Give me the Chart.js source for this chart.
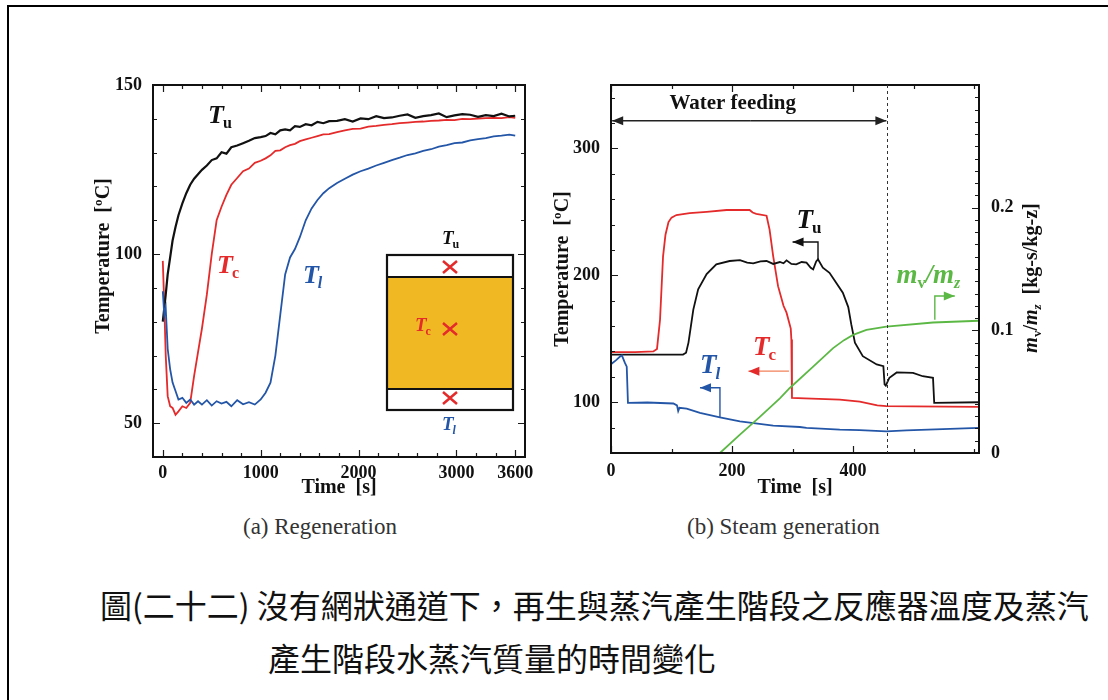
<!DOCTYPE html>
<html>
<head>
<meta charset="utf-8">
<script src="https://cdn.jsdelivr.net/npm/chart.js@4.4.0/dist/chart.umd.min.js"></script>
<style>
  body { margin: 0; background: #fff; width: 1108px; height: 700px; overflow: hidden; position: relative; font-family: "Liberation Serif", serif; }
  #marco { position: absolute; left: 7px; top: 5px; width: 1110px; height: 700px; border-top: 2px solid #000; border-left: 2px solid #000; }
  canvas { position: absolute; }
  #graficoA { left: 80px; top: 60px; }
  #graficoB { left: 540px; top: 60px; }
  .sub { position: absolute; font-size: 23px; color: #333; line-height: 26px; white-space: nowrap; }
  .cap { position: absolute; font-family: "Noto Sans CJK TC", sans-serif; font-size: 32px; color: #111; line-height: 40px; white-space: nowrap; }
</style>
</head>
<body>
<div id="marco"></div>
<canvas id="graficoA" width="460" height="450"></canvas>
<canvas id="graficoB" width="540" height="450"></canvas>
<div class="sub" style="left:243px;top:514px">(a) Regeneration</div>
<div class="sub" style="left:687px;top:514px">(b) Steam generation</div>
<div class="cap" style="left:100px;top:584px">圖(二十二) 沒有網狀通道下，再生與蒸汽產生階段之反應器溫度及蒸汽</div>
<div class="cap" style="left:268px;top:637px">產生階段水蒸汽質量的時間變化</div>

<script>
const SERIF = '"Liberation Serif", "Times New Roman", serif';
const NEGRO = '#111111';
const ROJO = '#e42a2a';
const AZUL = '#2456a8';
const VERDE = '#5cb845';

// (a) Regeneración: tiempo [s] y temperaturas [ºC]
const regenTime = [0, 15, 30, 50, 75, 100, 130, 160, 200, 240, 280, 320, 360, 400, 450, 500, 550, 600, 650, 700,
  760, 820, 880, 940, 1000, 1050, 1100, 1150, 1200, 1250, 1300, 1350, 1400, 1460, 1520, 1580, 1640, 1700, 1780, 1860,
  1940, 2020, 2100, 2180, 2260, 2340, 2420, 2500, 2580, 2660, 2740, 2820, 2900, 2980, 3060, 3140, 3220, 3300, 3380, 3460,
  3540, 3600];
const regenTu = [80, 84, 88, 94, 99, 104, 108, 111.5, 115, 118, 120.5, 122.3, 123.6, 124.9, 126.2, 127.8, 128.3, 130.1, 129.7, 131.6,
  132.1, 132.8, 133.5, 134.3, 134.6, 134.9, 135.8, 135.4, 136.6, 136.9, 136.6, 137.8, 137.6, 138.4, 138.1, 139.1, 138.7, 139.3, 139.4, 139.9,
  139.2, 140.1, 139.9, 140.8, 140.2, 140.4, 140.9, 141.3, 140.3, 140.8, 141.1, 141.6, 140.5, 141.0, 141.4, 141.2, 140.6, 141.1, 140.8, 141.5,
  140.7, 140.9];
const regenTc = [98, 85, 70, 58, 55, 54.5, 52.5, 53.5, 55, 54.5, 56, 64, 71, 78, 88, 100, 110, 114, 117.5, 120.5,
  122.5, 124.5, 125.3, 127, 127.6, 128.3, 129.2, 130.5, 130.7, 131.6, 132.2, 132.6, 133.4, 133.9, 134.4, 134.9, 135.4, 135.5, 136.1, 136.6,
  137, 137.1, 137.7, 137.9, 138.2, 138.4, 138.7, 138.9, 139.1, 139.2, 139.4, 139.5, 139.7, 139.6, 140, 139.9, 140.1, 140.2, 140.3, 140.2,
  140.5, 140.3];
const regenTl = [89, 82, 84, 72, 66, 62, 59.5, 57, 57.5, 56, 57, 55.5, 56.5, 55.5, 56.8, 55.2, 56.5, 55.8, 56.3, 55,
  56.8, 55.6, 56.2, 55.5, 57, 59, 62, 70, 82, 94, 99, 101.5, 105, 110, 113.5, 116, 118, 119.5, 121, 122.3,
  123.5, 124.5, 125.3, 126.2, 127, 127.8, 128.5, 129.3, 129.8, 130.5, 131, 131.8, 132.2, 132.8, 133, 133.6, 134, 134.3, 134.8, 135,
  135.3, 135];
const regenXLabels = [0, 1000, 2000, 3000, 3600];
const regenYLabels = [50, 100, 150];

// (b) Generación de vapor
const steamTcTime = [0, 40, 70, 76, 81, 86, 90, 95, 100, 108, 130, 158, 191, 229, 234, 240, 257, 262, 268, 276,
  285, 290, 297, 298, 299, 320, 378, 411, 440, 455, 500, 608];
const steamTc = [139.5, 139.5, 140, 142, 165, 215, 232, 242, 245.5, 247.5, 249, 250, 251.5, 251.5, 249.5, 248.5, 247, 236, 215, 191.5,
  176, 170.6, 158, 149.5, 103.5, 103, 102, 100.5, 97.5, 97, 96.7, 96.4];
const steamTuTime = [0, 60, 119, 124, 128, 132, 136, 144, 158, 174, 196, 213, 225, 235, 247, 257, 268, 279, 285, 290,
  298, 306, 315, 323, 330, 334, 339, 342, 350, 361, 372, 383, 392, 397, 403, 416, 439, 450, 452, 454,
  460, 472, 499, 515, 532, 534, 608];
const steamTu = [137.6, 137.6, 137.6, 139, 147, 160, 173, 189, 201, 208.7, 211.3, 212, 210, 209.5, 211, 211.3, 209, 210.5, 209.5, 211.8,
  209, 208.7, 210.5, 210, 206, 204.7, 211, 212.6, 206, 202, 194.2, 186.3, 175, 161.3, 146.9, 136.3, 129.8, 128.4, 114, 113,
  119.3, 123.5, 123.2, 120.5, 119.3, 99.5, 100];
const steamTlTime = [0, 8, 15, 18, 23, 26, 28, 60, 103, 109, 111, 113, 125, 147, 180, 213, 268, 312, 323, 378, 411, 455, 488, 608];
const steamTl = [130, 133, 136, 136.9, 131, 128, 99.5, 99.8, 99, 97.5, 93, 95.6, 95, 91.6, 88, 85, 81.6, 80.5, 79.8, 78.4, 78, 77.1, 77.8, 79.8];
const steamMTime = [0, 180, 213, 245, 279, 295, 334, 367, 385, 400, 422, 455, 532, 608];
const steamM = [0, 0, 0.015, 0.029, 0.0446, 0.0528, 0.0704, 0.0855, 0.092, 0.0963, 0.1004, 0.1031, 0.1064, 0.1078];
const steamXLabels = [0, 200, 400];
const steamYLabels = [100, 200, 300];
const steamMLabels = [0, 0.1, 0.2];

function puntos(xs, ys) {
  return xs.map((x, i) => ({ x: x, y: ys[i] }));
}

function rango(a, b, paso) {
  const r = [];
  for (let v = a; v <= b + 1e-9; v += paso) r.push(+v.toFixed(4));
  return r;
}

function serie(datos, color, eje, ancho) {
  return {
    data: datos, borderColor: color, borderWidth: ancho || 1.8, pointRadius: 0, tension: 0,
    fill: false, yAxisID: eje || 'y'
  };
}

const fuenteEje = { family: SERIF, size: 18, weight: 'bold' };
const fuenteTitulo = { family: SERIF, size: 20, weight: 'bold' };

// marcas hacia dentro y marco del área del gráfico
function dibujarMarcas(chart, marcas) {
  const { ctx, chartArea: a, scales } = chart;
  ctx.save();
  ctx.strokeStyle = '#1a1a1a';
  ctx.lineWidth = 1.2;
  ctx.beginPath();
  marcas.forEach(m => {
    const esc = scales[m.eje];
    m.valores.forEach(v => {
      const p = Math.round(esc.getPixelForValue(v)) + 0.5;
      const largo = m.mayores.includes(v) ? 7 : 4;
      m.lados.forEach(lado => {
        if (lado === 'bottom') { ctx.moveTo(p, a.bottom); ctx.lineTo(p, a.bottom - largo); }
        if (lado === 'top') { ctx.moveTo(p, a.top); ctx.lineTo(p, a.top + largo); }
        if (lado === 'left') { ctx.moveTo(a.left, p); ctx.lineTo(a.left + largo, p); }
        if (lado === 'right') { ctx.moveTo(a.right, p); ctx.lineTo(a.right - largo, p); }
      });
    });
  });
  ctx.stroke();
  ctx.lineWidth = 2;
  ctx.strokeStyle = '#111';
  ctx.strokeRect(a.left, a.top, a.right - a.left, a.bottom - a.top);
  ctx.restore();
}

// "T" en cursiva con subíndice
function etiqueta(ctx, x, y, letra, indice, color, size, indiceCursiva) {
  ctx.save();
  ctx.fillStyle = color;
  ctx.textAlign = 'left';
  ctx.textBaseline = 'alphabetic';
  ctx.font = 'italic bold ' + size + 'px ' + SERIF;
  ctx.fillText(letra, x, y);
  const w = ctx.measureText(letra).width;
  ctx.font = (indiceCursiva ? 'italic ' : '') + 'bold ' + Math.round(size * 0.62) + 'px ' + SERIF;
  ctx.fillText(indice, x + w - 1, y + size * 0.2);
  ctx.restore();
}

// texto compuesto por trozos con subíndices
function textoCompuesto(ctx, x, y, trozos, color) {
  ctx.save();
  ctx.fillStyle = color;
  ctx.textAlign = 'left';
  ctx.textBaseline = 'alphabetic';
  let cx = x;
  trozos.forEach(t => {
    ctx.font = t.f;
    ctx.fillText(t.s, cx, y + (t.dy || 0));
    cx += ctx.measureText(t.s).width;
  });
  ctx.restore();
  return cx - x;
}

function anchoCompuesto(ctx, trozos) {
  let w = 0;
  ctx.save();
  trozos.forEach(t => { ctx.font = t.f; w += ctx.measureText(t.s).width; });
  ctx.restore();
  return w;
}

function punta(ctx, a, b, color) {
  const ang = Math.atan2(b[1] - a[1], b[0] - a[0]);
  const L = 11, H = 4.5;
  ctx.fillStyle = color;
  ctx.beginPath();
  ctx.moveTo(b[0], b[1]);
  ctx.lineTo(b[0] - L * Math.cos(ang) + H * Math.sin(ang), b[1] - L * Math.sin(ang) - H * Math.cos(ang));
  ctx.lineTo(b[0] - L * Math.cos(ang) - H * Math.sin(ang), b[1] - L * Math.sin(ang) + H * Math.cos(ang));
  ctx.closePath();
  ctx.fill();
}

function flecha(ctx, pts, color, colorPunta) {
  ctx.save();
  ctx.strokeStyle = color;
  ctx.lineWidth = 1.4;
  ctx.beginPath();
  ctx.moveTo(pts[0][0], pts[0][1]);
  for (let i = 1; i < pts.length; i++) ctx.lineTo(pts[i][0], pts[i][1]);
  ctx.stroke();
  punta(ctx, pts[pts.length - 2], pts[pts.length - 1], colorPunta || color);
  ctx.restore();
}

function cruz(ctx, x, y) {
  ctx.save();
  ctx.strokeStyle = ROJO;
  ctx.lineWidth = 2.5;
  ctx.beginPath();
  ctx.moveTo(x - 7, y - 6); ctx.lineTo(x + 7, y + 6);
  ctx.moveTo(x + 7, y - 6); ctx.lineTo(x - 7, y + 6);
  ctx.stroke();
  ctx.restore();
}

// ---------- Gráfico (a) ----------
const marcasA = {
  id: 'marcasA',
  afterDatasetsDraw(chart) {
    dibujarMarcas(chart, [
      { eje: 'x', valores: rango(0, 3600, 200), mayores: regenXLabels, lados: ['bottom', 'top'] },
      { eje: 'y', valores: rango(40, 150, 10), mayores: regenYLabels, lados: ['left', 'right'] }
    ]);
  },
  afterDraw(chart) {
    const { ctx, chartArea: a, scales } = chart;
    const xs = scales.x, ys = scales.y;
    etiqueta(ctx, xs.getPixelForValue(462), ys.getPixelForValue(138.8), 'T', 'u', NEGRO, 26, false);
    etiqueta(ctx, xs.getPixelForValue(554), ys.getPixelForValue(94.4), 'T', 'c', ROJO, 26, false);
    etiqueta(ctx, xs.getPixelForValue(1432), ys.getPixelForValue(91.4), 'T', 'l', AZUL, 26, true);

    // esquema del reactor
    const ix = a.left + 234, iy = a.top + 170, iw = 126, ih = 155;
    ctx.save();
    ctx.fillStyle = '#f0b823';
    ctx.fillRect(ix, iy + 22, iw, 112);
    ctx.strokeStyle = '#111';
    ctx.lineWidth = 2.2;
    ctx.strokeRect(ix, iy, iw, ih);
    ctx.beginPath();
    ctx.moveTo(ix, iy + 22); ctx.lineTo(ix + iw, iy + 22);
    ctx.moveTo(ix, iy + 134); ctx.lineTo(ix + iw, iy + 134);
    ctx.stroke();
    ctx.restore();
    cruz(ctx, ix + 63, iy + 12);
    cruz(ctx, ix + 63, iy + 74);
    cruz(ctx, ix + 63, iy + 143);
    etiqueta(ctx, ix + 55, iy - 11, 'T', 'u', NEGRO, 19, false);
    etiqueta(ctx, ix + 28, iy + 76, 'T', 'c', ROJO, 19, false);
    etiqueta(ctx, ix + 55, iy + 175, 'T', 'l', AZUL, 19, true);
  }
};

new Chart(document.getElementById('graficoA'), {
  type: 'line',
  data: {
    datasets: [
      serie(puntos(regenTime, regenTl), AZUL),
      serie(puntos(regenTime, regenTu), NEGRO, 'y', 2.2),
      serie(puntos(regenTime, regenTc), ROJO)
    ]
  },
  options: {
    responsive: false, animation: false, devicePixelRatio: 1,
    layout: { padding: { top: 25, right: 15, left: 0, bottom: 0 } },
    plugins: { legend: { display: false }, tooltip: { enabled: false } },
    scales: {
      x: {
        type: 'linear', min: -100, max: 3700,
        afterBuildTicks: s => { s.ticks = regenXLabels.map(v => ({ value: v })); },
        afterFit: s => { s.height = 53; },
        grid: { display: false }, border: { display: false },
        ticks: { font: fuenteEje, color: NEGRO, padding: -2, maxRotation: 0, autoSkip: false, callback: v => String(v) },
        title: { display: true, text: 'Time  [s]', font: fuenteTitulo, color: NEGRO, padding: { top: 0, bottom: 10 } }
      },
      y: {
        type: 'linear', min: 40, max: 150,
        afterBuildTicks: s => { s.ticks = regenYLabels.map(v => ({ value: v })); },
        afterFit: s => { s.width = 73; },
        grid: { display: false }, border: { display: false },
        ticks: { font: fuenteEje, color: NEGRO, padding: 3, callback: v => String(v) },
        title: { display: true, text: '      Temperature  [ºC]', font: fuenteTitulo, color: NEGRO, padding: { top: 12, bottom: 0 } }
      }
    }
  },
  plugins: [marcasA]
});

// ---------- Gráfico (b) ----------
const marcasB = {
  id: 'marcasB',
  afterDatasetsDraw(chart) {
    dibujarMarcas(chart, [
      { eje: 'x', valores: rango(0, 600, 100), mayores: steamXLabels, lados: ['bottom', 'top'] },
      { eje: 'y', valores: rango(60, 340, 20), mayores: steamYLabels, lados: ['left'] },
      { eje: 'y1', valores: rango(0, 0.3, 0.01), mayores: steamMLabels, lados: ['right'] }
    ]);
  },
  afterDraw(chart) {
    const { ctx, chartArea: a, scales } = chart;
    const xs = scales.x, ys = scales.y, ms = scales.y1;
    const px = v => xs.getPixelForValue(v);
    const py = v => ys.getPixelForValue(v);
    const pm = v => ms.getPixelForValue(v);

    // fin de la alimentación de agua
    ctx.save();
    ctx.strokeStyle = '#333';
    ctx.lineWidth = 1;
    ctx.setLineDash([3, 3]);
    ctx.beginPath();
    ctx.moveTo(Math.round(px(456)) + 0.5, a.top);
    ctx.lineTo(Math.round(px(456)) + 0.5, a.bottom);
    ctx.stroke();
    ctx.restore();

    const yw = py(321.8);
    flecha(ctx, [[px(230), yw], [px(455), yw]], '#222');
    flecha(ctx, [[px(230), yw], [px(2), yw]], '#222');
    ctx.save();
    ctx.fillStyle = NEGRO;
    ctx.font = 'bold 21px ' + SERIF;
    ctx.textAlign = 'center';
    ctx.textBaseline = 'middle';
    ctx.fillText('Water feeding', px(201), py(335));
    ctx.restore();

    etiqueta(ctx, px(306.5), py(237.6), 'T', 'u', NEGRO, 27, false);
    flecha(ctx, [[px(342), py(212)], [px(342), py(226.3)], [px(300), py(226.3)]], NEGRO);

    etiqueta(ctx, px(234.5), py(137.6), 'T', 'c', ROJO, 27, false);
    flecha(ctx, [[px(294), py(124.5)], [px(227), py(124.5)]], '#f2805a', ROJO);

    etiqueta(ctx, px(147), py(122.7), 'T', 'l', AZUL, 27, true);
    flecha(ctx, [[px(180), py(87.7)], [px(180), py(111.4)], [px(147), py(111.4)]], AZUL);

    const fm = 'italic bold 27px ' + SERIF, fs = 'bold 16px ' + SERIF;
    textoCompuesto(ctx, px(471.6), py(194.2), [
      { s: 'm', f: fm }, { s: 'v', f: fs, dy: 5 }, { s: '/', f: fm }, { s: 'm', f: fm }, { s: 'z', f: 'italic ' + fs, dy: 5 }
    ], VERDE);
    flecha(ctx, [[px(535), pm(0.1086)], [px(535), pm(0.128)], [px(568), pm(0.128)]], VERDE);

    // título del eje derecho, girado
    const trozos = [
      { s: 'm', f: 'italic bold 20px ' + SERIF }, { s: 'v', f: 'bold 13px ' + SERIF, dy: 4 },
      { s: '/', f: 'bold 20px ' + SERIF }, { s: 'm', f: 'italic bold 20px ' + SERIF },
      { s: 'z', f: 'italic bold 13px ' + SERIF, dy: 4 }, { s: '  [kg-s/kg-z]', f: 'bold 20px ' + SERIF }
    ];
    const w = anchoCompuesto(ctx, trozos);
    ctx.save();
    ctx.translate(a.right + 51, (a.top + a.bottom) / 2 + 9);
    ctx.rotate(-Math.PI / 2);
    textoCompuesto(ctx, -w / 2, 7, trozos, NEGRO);
    ctx.restore();
  }
};

new Chart(document.getElementById('graficoB'), {
  type: 'line',
  data: {
    datasets: [
      serie(puntos(steamMTime, steamM), VERDE, 'y1'),
      serie(puntos(steamTlTime, steamTl), AZUL),
      serie(puntos(steamTuTime, steamTu), NEGRO),
      serie(puntos(steamTcTime, steamTc), ROJO)
    ]
  },
  options: {
    responsive: false, animation: false, devicePixelRatio: 1,
    layout: { padding: { top: 25, right: 0, left: 0, bottom: 0 } },
    plugins: { legend: { display: false }, tooltip: { enabled: false } },
    scales: {
      x: {
        type: 'linear', min: 0, max: 608,
        afterBuildTicks: s => { s.ticks = steamXLabels.map(v => ({ value: v })); },
        afterFit: s => { s.height = 57; },
        grid: { display: false }, border: { display: false },
        ticks: { font: fuenteEje, color: NEGRO, padding: 0, maxRotation: 0, autoSkip: false, callback: v => String(v) },
        title: { display: true, text: 'Time  [s]', font: fuenteTitulo, color: NEGRO, padding: { top: 0, bottom: 10 } }
      },
      y: {
        type: 'linear', position: 'left', min: 60, max: 350,
        afterBuildTicks: s => { s.ticks = steamYLabels.map(v => ({ value: v })); },
        afterFit: s => { s.width = 71; },
        grid: { display: false }, border: { display: false },
        ticks: { font: fuenteEje, color: NEGRO, padding: 3, callback: v => String(v) },
        title: { display: true, text: 'Temperature  [ºC]', font: fuenteTitulo, color: NEGRO, padding: { top: 11, bottom: 0 } }
      },
      y1: {
        type: 'linear', position: 'right', min: 0, max: 0.3,
        afterBuildTicks: s => { s.ticks = steamMLabels.map(v => ({ value: v })); },
        afterFit: s => { s.width = 101; },
        grid: { display: false }, border: { display: false },
        ticks: { font: fuenteEje, color: NEGRO, padding: 4, callback: v => (v === 0 ? '0' : v.toFixed(1)) }
      }
    }
  },
  plugins: [marcasB]
});
</script>
</body>
</html>
